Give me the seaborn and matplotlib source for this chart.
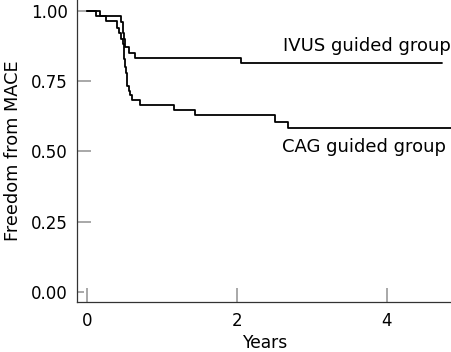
import numpy as np
import pandas as pd
import matplotlib
matplotlib.use("Agg")
import matplotlib.pyplot as plt
import seaborn as sns

# Kaplan-Meier step data
ivus_time = [0.0, 0.17, 0.46, 0.475, 0.485, 0.495, 0.507, 0.56, 0.64, 2.06, 4.74]
ivus_surv = [1.0, 0.98, 0.96, 0.94, 0.92, 0.90, 0.870, 0.850, 0.831, 0.813, 0.813]

cag_time = [0.0, 0.12, 0.26, 0.40, 0.43, 0.46, 0.48, 0.49, 0.50, 0.51, 0.52, 0.53,
            0.56, 0.58, 0.60, 0.707, 1.164, 1.44, 2.51, 2.68, 4.95]
cag_surv = [1.0, 0.98, 0.962, 0.94, 0.92, 0.90, 0.88, 0.86, 0.83, 0.80, 0.78, 0.734,
            0.716, 0.70, 0.681, 0.666, 0.648, 0.630, 0.606, 0.583, 0.583]

group_labels = ["IVUS guided group", "CAG guided group"]
x_ticks = [0, 2, 4]
y_ticks = [0.0, 0.25, 0.5, 0.75, 1.0]

df = pd.concat([
    pd.DataFrame({"Years": ivus_time, "surv": ivus_surv, "group": "IVUS"}),
    pd.DataFrame({"Years": cag_time, "surv": cag_surv, "group": "CAG"}),
])

sns.set_style("ticks")
plt.rcParams["font.family"] = ["DejaVu Sans"]
plt.rcParams["text.color"] = "black"
plt.rcParams["axes.labelcolor"] = "black"

fig = plt.figure(figsize=(4.52, 3.52), dpi=100)
ax = fig.add_axes([76.7 / 452, 1 - 302 / 352, 1 - 76.7 / 452, 302 / 352])

sns.lineplot(data=df, x="Years", y="surv", hue="group", palette=["black", "black"],
             drawstyle="steps-post", linewidth=1.3, legend=False, ax=ax,
             estimator=None, sort=False)

ax.set_xlim(-0.137, 4.867)
ax.set_ylim(-0.0356, 1.038)
ax.set_xticks(x_ticks)
ax.set_xticklabels([str(t) for t in x_ticks])
ax.set_yticks(y_ticks)
ax.set_yticklabels([f"{v:.2f}" for v in y_ticks])

for s in ["top", "right"]:
    ax.spines[s].set_visible(False)
for s in ["left", "bottom"]:
    ax.spines[s].set_color("#333333")
    ax.spines[s].set_linewidth(0.9)

ax.tick_params(axis="both", direction="in", length=10, width=1.2, color="#999999",
               labelsize=12, labelcolor="black")
ax.tick_params(axis="y", pad=6.3)
ax.tick_params(axis="x", pad=7)
ax.yaxis.get_major_ticks()[0].tick1line.set_markersize(5)

ax.set_xlabel("Years", fontsize=12.3, color="black")
ax.set_ylabel("Freedom from MACE", fontsize=12.8, color="black")
ax.xaxis.set_label_coords(0.502, -0.106)
ax.yaxis.set_label_coords(-0.146, 0.5)

ax.text(2.61, 0.858, group_labels[0], fontsize=13, va="baseline", ha="left", color="black")
ax.text(2.60, 0.496, group_labels[1], fontsize=13, va="baseline", ha="left", color="black")

fig.savefig("out.png", dpi=100)
